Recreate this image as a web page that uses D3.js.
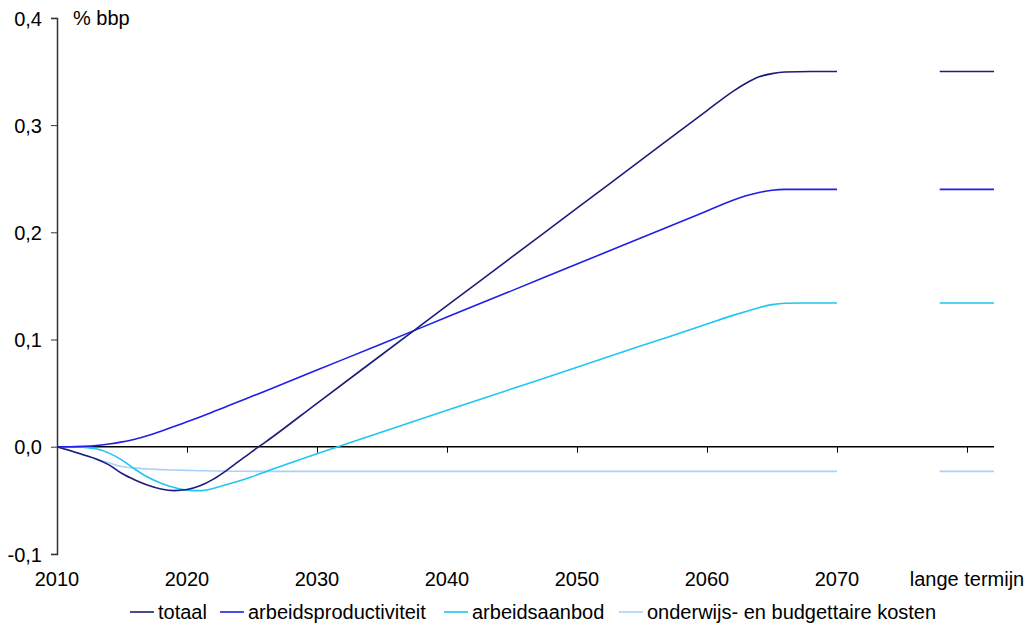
<!DOCTYPE html>
<html>
<head>
<meta charset="utf-8">
<script src="https://cdn.jsdelivr.net/npm/d3@7"></script>
<style>
  body { margin: 0; background: #fff; }
  svg { font-family: "Liberation Sans", Arial, sans-serif; }
</style>
</head>
<body>
<svg id="chart"></svg>
<script>
// data
var years = [2010, 2011, 2012, 2013, 2014, 2015, 2016, 2017, 2018, 2019, 2020, 2021, 2022, 2023, 2024, 2025, 2026,
             2030, 2035, 2040, 2045, 2050, 2055, 2060, 2062, 2063, 2064, 2065, 2066, 2068, 2070];

var totaal = [0, -0.0035, -0.0075, -0.0115, -0.017, -0.025, -0.031, -0.036, -0.0395, -0.041, -0.040, -0.0365, -0.0305, -0.0225, -0.0135, -0.0045, 0.004,
              0.0405, 0.086, 0.1315, 0.177, 0.2225, 0.268, 0.3135, 0.3315, 0.339, 0.345, 0.348, 0.3495, 0.35, 0.35];

var productiviteit = [0, 0, 0.0003, 0.001, 0.0025, 0.0045, 0.007, 0.0105, 0.0145, 0.0188, 0.0233, 0.0278, 0.0325, 0.0373, 0.0421, 0.047, 0.0518,
                      0.0715, 0.0961, 0.1209, 0.1456, 0.1704, 0.1951, 0.2199, 0.2298, 0.234, 0.2372, 0.2392, 0.240, 0.240, 0.240];

var aanbod = [0, 0, -0.0005, -0.002, -0.006, -0.0125, -0.021, -0.0285, -0.034, -0.038, -0.0405, -0.041, -0.039, -0.0355, -0.032, -0.028, -0.0235,
              -0.0065, 0.0137, 0.0339, 0.054, 0.0741, 0.0943, 0.1144, 0.1225, 0.1262, 0.1297, 0.1325, 0.1338, 0.134, 0.134];

var onderwijs = [0, -0.0037, -0.0075, -0.0112, -0.015, -0.0185, -0.020, -0.0208, -0.0214, -0.0218, -0.0221, -0.0224, -0.0226, -0.0228, -0.0229, -0.023, -0.023,
                 -0.023, -0.023, -0.023, -0.023, -0.023, -0.023, -0.023, -0.023, -0.023, -0.023, -0.023, -0.023, -0.023, -0.023];

var langeTermijn = [0.35, 0.24, 0.134, -0.023];

var seriesNames = ["totaal", "arbeidsproductiviteit", "arbeidsaanbod", "onderwijs- en budgettaire kosten"];
var seriesColors = ["#1c1c7c", "#1f1fe8", "#1ec6f2", "#a8d2f7"];

var xTickYears = [2010, 2020, 2030, 2040, 2050, 2060, 2070, 2080];
var xTickLabels = ["2010", "2020", "2030", "2040", "2050", "2060", "2070", "lange termijn"];
var yTicks = [-0.1, 0.0, 0.1, 0.2, 0.3, 0.4];

var dimensions = {
  width: 1029,
  height: 637
}

var fontSize = "20px"

var svg = d3.select("#chart")
  .attr("width", dimensions.width)
  .attr("height", dimensions.height)

// x: one decade = 130 px, lange termijn sits at "2080"
var x = d3.scaleLinear()
  .domain([2010, 2080])
  .range([57, 967])

var y = d3.scaleLinear()
  .domain([-0.1, 0.4])
  .range([553.9, 17.9])

var fmt = d3.format(".1f")

// y axis
var yAxis = d3.axisLeft(y)
  .tickValues(yTicks)
  .tickSize(6)
  .tickFormat(function(d) { return fmt(d).replace(".", ",").replace("\u2212", "-"); })

svg.append("g")
  .attr("transform", "translate(" + x(2010) + ",0)")
  .call(yAxis)
  .call(function(g) {
    g.select(".domain").attr("stroke", "#333").attr("stroke-width", 1.5)
    g.selectAll(".tick line").attr("stroke", "#333")
    g.selectAll(".tick text").attr("x", -15).attr("dy", "0.36em")
      .style("font-size", fontSize).style("font-family", "Liberation Sans, Arial, sans-serif").attr("fill", "#000")
  })

// x axis on the zero line
var xAxis = d3.axisBottom(x)
  .tickValues(xTickYears)
  .tickSize(6)
  .tickFormat(function(d, i) { return ""; })

svg.append("g")
  .attr("transform", "translate(0," + y(0) + ")")
  .call(xAxis)
  .call(function(g) {
    g.select(".domain").attr("d", "M" + x(2010) + ",0H" + x(2082.08)).attr("stroke", "#000").attr("stroke-width", 1.5)
    g.selectAll(".tick line").attr("stroke", "#000")
    g.selectAll(".tick").filter(function(d) { return d == 2010; }).remove()
  })

// x labels sit under the plot area
svg.append("g")
  .selectAll("text")
  .data(xTickYears)
  .join("text")
  .attr("x", function(d) { return x(d); })
  .attr("y", 586)
  .attr("text-anchor", "middle")
  .style("font-size", fontSize)
  .text(function(d, i) { return xTickLabels[i]; })

svg.append("text")
  .attr("x", 73)
  .attr("y", 25)
  .style("font-size", fontSize)
  .text("% bbp")

var allSeries = [totaal, productiviteit, aanbod, onderwijs]

var line = d3.line()
  .x(function(d) { return x(d[0]); })
  .y(function(d) { return y(d[1]); })
  .curve(d3.curveMonotoneX)

// draw back to front so totaal is on top
for (var s = allSeries.length - 1; s >= 0; s--) {
  var pts = years.map(function(yr, i) { return [yr, allSeries[s][i]]; })
  svg.append("path")
    .datum(pts)
    .attr("d", line)
    .attr("fill", "none")
    .attr("stroke", seriesColors[s])
    .attr("stroke-width", 1.6)

  svg.append("line")
    .attr("x1", x(2077.9))
    .attr("x2", x(2082.08))
    .attr("y1", y(langeTermijn[s]))
    .attr("y2", y(langeTermijn[s]))
    .attr("stroke", seriesColors[s])
    .attr("stroke-width", 1.6)
}

// legend
var legendX = [130, 220, 444, 619]
var legend = svg.append("g")
legendX.forEach(function(lx, i) {
  legend.append("line")
    .attr("x1", lx).attr("x2", lx + 24)
    .attr("y1", 612).attr("y2", 612)
    .attr("stroke", seriesColors[i])
    .attr("stroke-width", 1.6)
  legend.append("text")
    .attr("x", lx + 28)
    .attr("y", 619)
    .style("font-size", fontSize)
    .text(seriesNames[i])
})
</script>
</body>
</html>
